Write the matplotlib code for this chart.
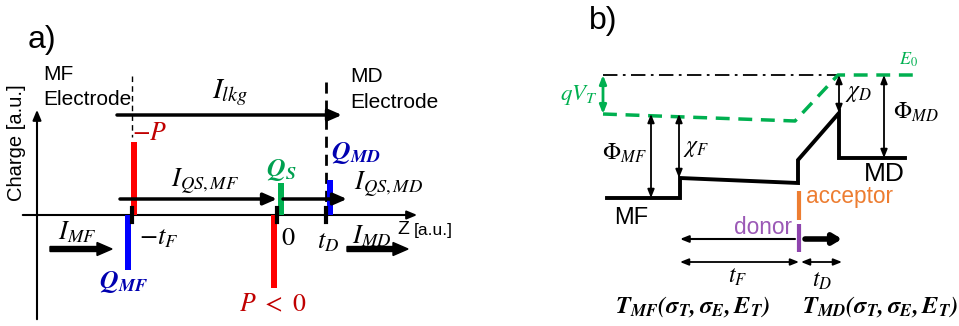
import numpy as np
import matplotlib.pyplot as plt
from matplotlib.patches import FancyArrow

plt.rcParams['font.family'] = ['Liberation Sans', 'DejaVu Sans']
plt.rcParams['mathtext.fontset'] = 'custom'
plt.rcParams['mathtext.rm'] = 'STIXGeneral'
plt.rcParams['mathtext.it'] = 'STIXGeneral:italic'
plt.rcParams['mathtext.bf'] = 'STIXGeneral:italic:bold'

#%%
### panel a: charge sheets along z (a.u.) ###
z_ticks = [95, 240, 289]               # -t_F, 0, t_D
z_tick_labels = [r'$-t_F$', r'$0$', r'$t_D$']
bar_z = [97, 90.5, 237, 243.5, 293]
bar_q = [73, -55, -73, 32, 35]
bar_colors = ['#ff0000', '#0000ff', '#ff0000', '#00b050', '#0000ff']
bar_labels = [r'$-P$', r'$\mathbf{Q_{MF}}$', r'$P\ <\ 0$', r'$\mathbf{Q_S}$', r'$\mathbf{Q_{MD}}$']

### panel b: band diagram (screen units, y down) ###
band_x = [607, 680, 680, 798, 798, 839, 839, 905]
band_y = [198, 198, 178, 183, 160, 113, 158, 158]
vac_x = [603, 795, 838, 913]
vac_y = [114, 121, 75, 75]
e0_level = 75

fig = plt.figure(figsize=(9.59, 3.26), dpi=100)
ax = fig.add_axes([0, 0, 1, 1])
ax.set_xlim(0, 959)
ax.set_ylim(326, 0)
ax.axis('off')

# panel a axes: origin of the charge plot sits at px (37, 215)
ax_a = fig.add_axes([0, 0, 1, 1])
ax_a.set_xlim(-37, 922)
ax_a.set_ylim(-111, 215)
ax_a.axis('off')

#%%
### panel a ###
ak = dict(length_includes_head=True, color='k')
ax_a.annotate('', xy=(0, 108), xytext=(0, -107),
              arrowprops=dict(arrowstyle='-|>,head_length=0.6,head_width=0.25', color='k', lw=1.5))
ax_a.annotate('', xy=(383, 0), xytext=(-17, 0),
              arrowprops=dict(arrowstyle='-|>,head_length=0.6,head_width=0.25', color='k', lw=1.5))

ax_a.bar(bar_z, bar_q, width=6, color=bar_colors, zorder=3)
for z in z_ticks:
    ax_a.plot([z, z], [-7, 7], color='k', lw=3, zorder=4)

ax_a.plot([95, 95], [139, 78], 'k--', lw=1.0, dashes=(4, 3))
ax_a.plot([289, 289], [133, -7], 'k--', lw=2.0, dashes=(4, 2.5))

arr = dict(arrowstyle='-|>,head_length=0.8,head_width=0.35', color='k', lw=2.5, shrinkA=0, shrinkB=0)
ax_a.annotate('', xy=(305, 100), xytext=(80, 100), arrowprops=arr)
ax_a.annotate('', xy=(240, 16), xytext=(83, 16), arrowprops=arr)
ax_a.annotate('', xy=(310, 16), xytext=(246, 16), arrowprops=arr)
ax_a.add_patch(FancyArrow(13, -34, 62, 0, width=5, head_width=13, head_length=15, **ak))
ax_a.add_patch(FancyArrow(310, -34, 61, 0, width=5, head_width=13, head_length=15, **ak))

ax.text(42, 40, 'a)', fontsize=23, ha='center', va='center')
ax.text(17, 143, 'Charge [a.u.]', fontsize=14.5, rotation=90, ha='center', va='center')
ax.text(43, 80, 'MF', fontsize=15, va='baseline')
ax.text(43, 105, 'Electrode', fontsize=15, va='baseline')
ax.text(350, 82, 'MD', fontsize=15, va='baseline')
ax.text(350, 108, 'Electrode', fontsize=15, va='baseline')
ax.text(403, 230, 'Z', fontsize=14, ha='center', va='center')
ax.text(414, 231, '[a.u.]', fontsize=12.5, va='center')

ax.text(230, 93, r'$I_{lkg}$', fontsize=21, ha='center', va='center')
ax.text(205, 182, r'$I_{QS,MF}$', fontsize=19, ha='center', va='center')
ax.text(354, 185, r'$I_{QS,MD}$', fontsize=19, ha='left', va='center')
ax.text(58, 232, r'$I_{MF}$', fontsize=19, ha='left', va='center')
ax.text(352, 236, r'$I_{MD}$', fontsize=19, ha='left', va='center')

tick_pos = [(159, 238), (288, 238), (328, 242)]
for (tx, ty), lab in zip(tick_pos, z_tick_labels):
    ax.text(tx, ty, lab, fontsize=19, ha='center', va='center')

lab_pos = [(150, 133), (123, 282), (273, 304), (281, 170), (356, 153)]
lab_colors = ['#c00000', '#0000b0', '#c00000', '#00a050', '#0000b0']
for (lx, ly), lab, c in zip(lab_pos, bar_labels, lab_colors):
    ax.text(lx, ly, lab, fontsize=18.5, color=c, ha='center', va='center')

#%%
### panel b ###
green = '#00b050'
ax.plot([603, 838], [e0_level, e0_level], color='k', lw=1.3, dashes=(8, 3, 1.5, 3))
ax.plot(vac_x, vac_y, color=green, lw=2.5, dashes=(4, 2.5))
ax.plot(band_x, band_y, color='k', lw=2.8, solid_joinstyle='miter')

dbl = dict(arrowstyle='<|-|>,head_length=0.5,head_width=0.2', lw=1.3, shrinkA=0, shrinkB=0)
ax.annotate('', xy=(603, 75), xytext=(603, 114), arrowprops=dict(dbl, color=green, lw=2))
ax.annotate('', xy=(651, 114), xytext=(651, 198), arrowprops=dict(dbl, color='k'))
ax.annotate('', xy=(679, 114), xytext=(679, 178), arrowprops=dict(dbl, color='k'))
ax.annotate('', xy=(839, 75), xytext=(839, 113), arrowprops=dict(dbl, color='k'))
ax.annotate('', xy=(884, 75), xytext=(884, 158), arrowprops=dict(dbl, color='k'))
ax.annotate('', xy=(680, 262), xytext=(799, 262), arrowprops=dict(dbl, color='k'))
ax.annotate('', xy=(801, 262), xytext=(842, 262), arrowprops=dict(dbl, color='k'))
ax.annotate('', xy=(680, 239), xytext=(795, 239),
            arrowprops=dict(arrowstyle='-|>,head_length=0.5,head_width=0.2', color='k', lw=1.5,
                            shrinkA=0, shrinkB=0))
ax.annotate('', xy=(842, 239), xytext=(805, 239),
            arrowprops=dict(arrowstyle='-|>,head_length=0.5,head_width=0.3', color='k', lw=4,
                            shrinkA=0, shrinkB=0))

ax.plot([799, 799], [191, 220], color='#ed7d31', lw=3, solid_capstyle='butt')
ax.plot([799, 799], [224, 252], color='#8e44ad', lw=3, solid_capstyle='butt')

ax.text(603, 21, 'b)', fontsize=23, ha='center', va='center')
ax.text(908, 60, r'$E_0$', fontsize=13, color=green, ha='center', va='center')
ax.text(598, 95, r'$qV_T$', fontsize=16.5, color=green, ha='right', va='center')
ax.text(624, 153, r'$\Phi_{MF}$', fontsize=17, ha='center', va='center')
ax.text(683, 148, r'$\chi_F$', fontsize=17, ha='left', va='center')
ax.text(845, 93, r'$\chi_D$', fontsize=17, ha='left', va='center')
ax.text(893, 112, r'$\Phi_{MD}$', fontsize=17, ha='left', va='center')
ax.text(884, 174, 'MD', fontsize=19, ha='center', va='center')
ax.text(631, 218, 'MF', fontsize=17, ha='center', va='center')
ax.text(806, 197, 'acceptor', fontsize=16.3, color='#ed7d31', ha='left', va='center')
ax.text(792, 228, 'donor', fontsize=16.3, color='#9b59b6', ha='right', va='center')
ax.text(738, 277, r'$t_F$', fontsize=17, ha='center', va='center')
ax.text(822, 281, r'$t_D$', fontsize=17, ha='center', va='center')
ax.text(693, 307, r'$\mathbf{T_{MF}(\sigma_T,\sigma_E,E_T)}$', fontsize=17.5, ha='center', va='center')
ax.text(880, 307, r'$\mathbf{T_{MD}(\sigma_T,\sigma_E,E_T)}$', fontsize=17.5, ha='center', va='center')

fig.savefig('out.png', dpi=100)
